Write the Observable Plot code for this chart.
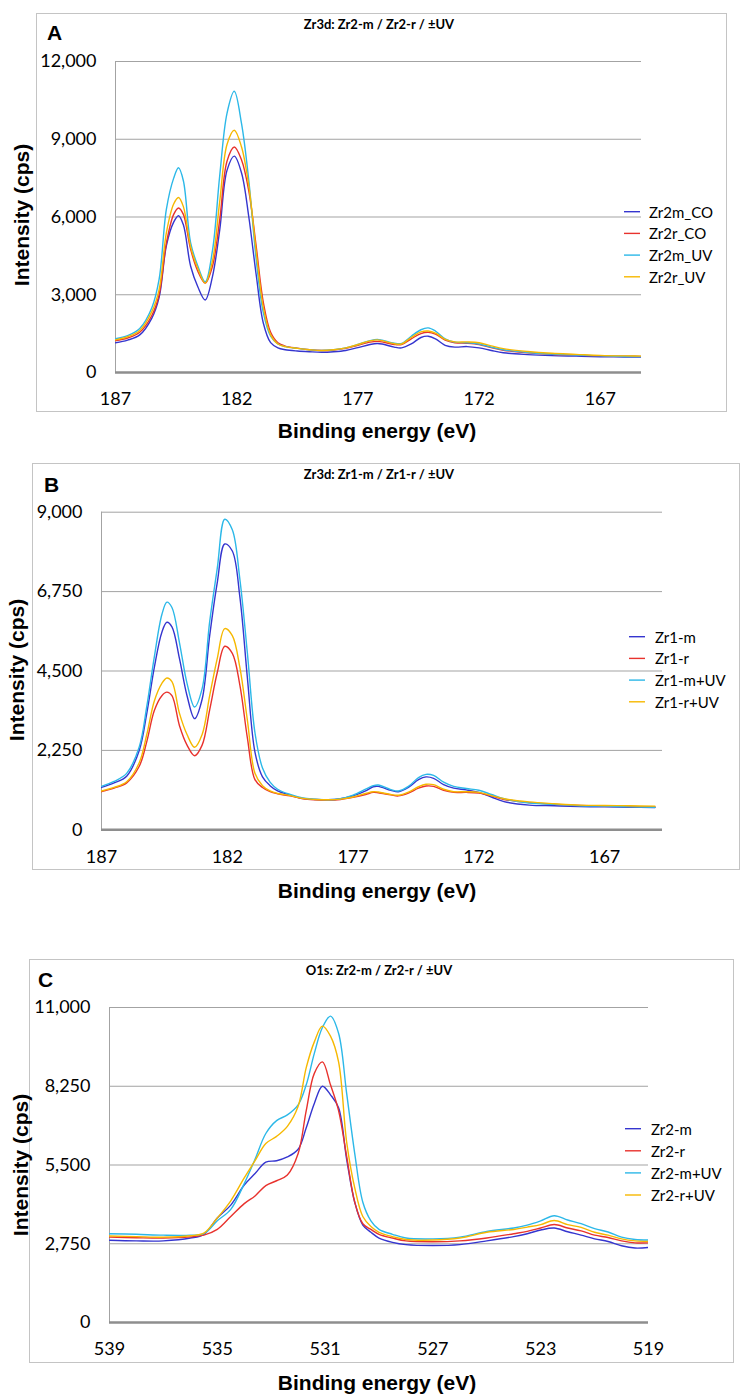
<!DOCTYPE html>
<html><head><meta charset="utf-8">
<script src="https://cdn.jsdelivr.net/npm/d3@7"></script>
<script src="https://cdn.jsdelivr.net/npm/@observablehq/plot@0.6"></script>
<style>
body{margin:0;background:#fff;}
#page{position:relative;width:749px;height:1400px;overflow:hidden;background:#fff;}
.frame{position:absolute;border:1.5px solid #c4c4c4;box-sizing:border-box;}
.chart{position:absolute;left:0;}
#overlay{position:absolute;left:0;top:0;pointer-events:none;}
</style></head>
<body><div id="page"></div>
<script>
// ---------- DATA ----------
const energyZr = [187,186.5,186,185.5,185.2,184.9,184.6,184.4,184.2,183.9,
  183.6,183.3,183.0,182.7,182.4,182.1,181.8,181.5,181.2,180.9,
  180.6,180.3,180,179.5,179,178.5,178,177.5,177,176.5,
  176.2,176,175.5,175.2,174.8,174.4,174.1,173.8,173.4,173,
  172.5,172,171.5,171,170,169,168,167,166,165];

// Panel A: Zr3d Zr2-m / Zr2-r
const namesA = ["Zr2m_CO","Zr2r_CO","Zr2m_UV","Zr2r_UV"];
const a_Zr2m_CO = [1150,1250,1450,2100,2900,4900,5800,6050,5700,4100,
  3300,2800,3700,5500,7800,8350,7700,6000,3800,1900,
  1150,950,880,830,800,780,800,850,960,1080,
  1120,1100,980,950,1100,1350,1400,1300,1050,980,
  1000,950,850,760,690,650,630,610,600,600];
const a_Zr2r_CO = [1230,1330,1550,2200,3000,5000,6100,6350,6100,4750,
  3900,3450,4100,5900,8150,8700,8200,7000,4900,2700,
  1550,1150,1020,940,880,850,870,930,1050,1170,
  1200,1180,1080,1080,1300,1500,1550,1480,1250,1150,
  1130,1080,960,860,760,700,670,640,630,620];
const a_Zr2m_UV = [1300,1420,1700,2500,3600,6300,7500,7900,7400,5000,
  4100,3500,4700,7600,10000,10850,9600,7400,4400,2300,
  1400,1100,1000,930,880,850,880,950,1080,1230,
  1280,1250,1130,1120,1400,1650,1720,1600,1300,1170,
  1150,1100,980,880,770,710,670,640,620,610];
const a_Zr2r_UV = [1260,1380,1620,2350,3200,5400,6500,6750,6400,4850,
  4000,3450,4300,6600,8800,9350,8700,7200,4700,2500,
  1450,1100,1000,930,880,850,880,950,1080,1220,
  1260,1230,1110,1100,1350,1570,1600,1520,1280,1180,
  1180,1150,1030,920,810,740,700,660,640,630];

// Panel B: Zr3d Zr1-m / Zr1-r
const namesB = ["Zr1-m","Zr1-r","Zr1-m+UV","Zr1-r+UV"];
const b_Zr1m = [1200,1330,1520,2250,3300,4600,5600,5880,5750,4850,
  3800,3150,3700,5500,7000,8100,7900,6600,4300,2200,
  1500,1250,1100,980,890,860,850,880,960,1100,
  1220,1230,1120,1080,1200,1420,1500,1460,1280,1180,
  1130,1060,930,800,700,680,660,650,640,630];
const b_Zr1r = [1080,1180,1330,1800,2500,3380,3800,3900,3800,2950,
  2400,2100,2400,3400,4450,5200,5000,4100,2600,1420,
  1200,1080,1020,960,880,850,840,860,920,1000,
  1060,1050,990,960,1040,1180,1240,1230,1120,1060,
  1060,1040,960,860,770,720,690,680,660,650];
const b_Zr1mUV = [1230,1370,1600,2350,3500,4900,6100,6450,6300,5300,
  4150,3480,4000,5900,7400,8800,8500,7100,5000,2750,
  1750,1350,1150,1000,900,870,850,880,980,1150,
  1250,1270,1140,1100,1230,1480,1570,1540,1350,1230,
  1170,1120,1000,880,760,720,680,670,650,640];
const b_Zr1rUV = [1100,1200,1360,1900,2700,3650,4150,4300,4200,3300,
  2700,2340,2700,3800,4850,5700,5500,4600,3100,1600,
  1250,1100,1030,970,890,860,850,870,930,1030,
  1080,1070,1000,980,1070,1220,1290,1280,1150,1080,
  1080,1060,970,880,790,740,700,690,680,670];

// Panel C: O1s Zr2-m / Zr2-r
const energyO = [539,538,537,536,535.5,535,534.5,534,533.6,533.2,
  532.8,532.4,532,531.7,531.4,531.1,530.8,530.5,530.2,529.9,
  529.6,529.3,529,528.5,528,527,526,525,524,523.5,
  523,522.5,522,521.5,521,520.5,520,519.5,519];
const namesC = ["Zr2-m","Zr2-r","Zr2-m+UV","Zr2-r+UV"];
const c_Zr2m = [2870,2850,2850,2950,3080,3650,4100,4800,5200,5600,
  5650,5780,6050,6800,7650,8250,7950,7500,5700,4200,
  3400,3150,2950,2800,2720,2690,2720,2850,3000,3100,
  3230,3300,3170,3050,2920,2830,2680,2600,2620];
const c_Zr2r = [2980,2960,2950,2990,3050,3250,3700,4150,4420,4780,
  4950,5150,5900,7400,8700,9100,8300,7400,5800,4200,
  3450,3250,3080,2950,2850,2820,2850,2950,3100,3180,
  3300,3420,3300,3200,3050,2970,2850,2780,2780];
const c_Zr2mUV = [3100,3080,3050,3050,3100,3550,3950,4850,5700,6600,
  7050,7250,7600,8300,9400,10300,10700,10100,8000,5900,
  4200,3550,3250,3080,2950,2920,2980,3180,3300,3400,
  3550,3730,3580,3450,3280,3160,2980,2900,2880];
const c_Zr2rUV = [3020,3000,2980,3030,3120,3650,4250,5050,5650,6250,
  6500,6850,7550,8900,9800,10350,10000,9100,6300,4700,
  3700,3350,3150,3000,2900,2880,2950,3150,3250,3330,
  3420,3560,3420,3320,3150,3050,2920,2850,2830];

// tick values
const xTicksZr = [187,182,177,172,167];
const xTicksO = [539,535,531,527,523,519];
const yTicksA = [0,3000,6000,9000,12000];
const yTicksB = [0,2250,4500,6750,9000];
const yTicksC = [0,2750,5500,8250,11000];

const seriesColors = ["#3535cf","#e8322d","#2cb8e8","#f6b800"];

// ---------- LAYOUT ----------
const panels = [
  {letter:"A", title:"Zr3d: Zr2-m / Zr2-r / \u00b1UV", energy:energyZr, names:namesA,
   values:[a_Zr2m_CO,a_Zr2r_CO,a_Zr2m_UV,a_Zr2r_UV], xDomain:[187,165.3], yMax:12000,
   xTicks:xTicksZr, yTicks:yTicksA,
   top:0, height:445, mt:61, mb:73, ml:115, mr:108,
   frame:[36,13,727,412], letterPos:[47,40], titleY:29, xTitleY:438, yTitle:[21.5,215],
   legend:{x1:624,x2:640,tx:649,y0:211.7,dy:21.7}},
  {letter:"B", title:"Zr3d: Zr1-m / Zr1-r / \u00b1UV", energy:energyZr, names:namesB,
   values:[b_Zr1m,b_Zr1r,b_Zr1mUV,b_Zr1rUV], xDomain:[187,164.7], yMax:9000,
   xTicks:xTicksZr, yTicks:yTicksB,
   top:445, height:460, mt:66.7, mb:75.7, ml:101, mr:87,
   frame:[32,463,740,870], letterPos:[44,492], titleY:479, xTitleY:898, yTitle:[16.5,670],
   legend:{x1:629,x2:645,tx:655,y0:636.7,dy:21.7}},
  {letter:"C", title:"O1s: Zr2-m / Zr2-r / \u00b1UV", energy:energyO, names:namesC,
   values:[c_Zr2m,c_Zr2r,c_Zr2mUV,c_Zr2rUV], xDomain:[539,519], yMax:11000,
   xTicks:xTicksO, yTicks:yTicksC,
   top:905, height:495, mt:102, mb:78, ml:109, mr:101,
   frame:[29,959,734,1363], letterPos:[38,987], titleY:975, xTitleY:1390, yTitle:[20.5,1165],
   legend:{x1:625,x2:641,tx:651,y0:1128.7,dy:22.1}}
];

const page = document.getElementById("page");

panels.forEach(p => {
  const fr = document.createElement("div");
  fr.className = "frame";
  fr.style.left = p.frame[0] + "px";
  fr.style.top = p.frame[1] + "px";
  fr.style.width = (p.frame[2] - p.frame[0]) + "px";
  fr.style.height = (p.frame[3] - p.frame[1]) + "px";
  page.appendChild(fr);
});

panels.forEach(p => {
  const rows = [];
  p.names.forEach((name, si) => {
    p.energy.forEach((e, i) => rows.push({energy: e, intensity: p.values[si][i], series: name}));
  });
  const chart = Plot.plot({
    width: 749, height: p.height,
    marginTop: p.mt, marginBottom: p.mb, marginLeft: p.ml, marginRight: p.mr,
    style: {fontFamily: "Lato, 'Liberation Sans', sans-serif", fontSize: "18px", color: "#000", background: "transparent", overflow: "visible"},
    x: {domain: p.xDomain},
    y: {domain: [0, p.yMax]},
    color: {domain: p.names, range: seriesColors},
    marks: [
      Plot.gridY(p.yTicks.filter(t => t > 0), {stroke: "#a3a3a3", strokeOpacity: 1, strokeWidth: 1}),
      Plot.ruleX([p.xDomain[0]], {stroke: "#a3a3a3", strokeWidth: 1}),
      Plot.lineY(rows, {x: "energy", y: "intensity", z: "series", stroke: "series", strokeWidth: 1.4, curve: "catmull-rom", clip: true}),
      Plot.ruleY([0], {stroke: "#8e8e8e", strokeWidth: 2.5}),
      Plot.axisX(p.xTicks, {tickSize: 0, tickPadding: 20, fontSize: 18, label: null}),
      Plot.axisY(p.yTicks, {tickSize: 0, tickPadding: 19, fontSize: 18, tickFormat: d3.format(","), label: null})
    ]
  });
  chart.classList.add("chart");
  chart.style.top = p.top + "px";
  chart.style.position = "absolute";
  page.appendChild(chart);
});

// overlay for titles, letters, axis titles and legends
const ov = d3.select(page).append("svg").attr("id", "overlay").attr("width", 749).attr("height", 1400);
panels.forEach(p => {
  ov.append("text").attr("x", p.letterPos[0]).attr("y", p.letterPos[1])
    .attr("font-family", "'Liberation Sans', Arial, sans-serif").attr("font-weight", "bold").attr("font-size", 21)
    .text(p.letter);
  ov.append("text").attr("x", 379).attr("y", p.titleY).attr("text-anchor", "middle")
    .attr("font-family", "Lato, sans-serif").attr("font-weight", "bold").attr("font-size", 13)
    .text(p.title);
  ov.append("text").attr("x", 377).attr("y", p.xTitleY).attr("text-anchor", "middle")
    .attr("font-family", "'Liberation Sans', Arial, sans-serif").attr("font-weight", "bold").attr("font-size", 21)
    .text("Binding energy (eV)");
  ov.append("text").attr("transform", `translate(${p.yTitle[0]},${p.yTitle[1]}) rotate(-90)`)
    .attr("text-anchor", "middle").attr("dominant-baseline", "central")
    .attr("font-family", "'Liberation Sans', Arial, sans-serif").attr("font-weight", "bold").attr("font-size", 21)
    .text("Intensity (cps)");
  p.names.forEach((name, i) => {
    const y = p.legend.y0 + i * p.legend.dy;
    ov.append("line").attr("x1", p.legend.x1).attr("x2", p.legend.x2).attr("y1", y).attr("y2", y)
      .attr("stroke", seriesColors[i]).attr("stroke-width", 1.4);
    ov.append("text").attr("x", p.legend.tx).attr("y", y).attr("dominant-baseline", "central")
      .attr("font-family", "Lato, sans-serif").attr("font-size", 15).text(name);
  });
});
</script>
</body></html>
